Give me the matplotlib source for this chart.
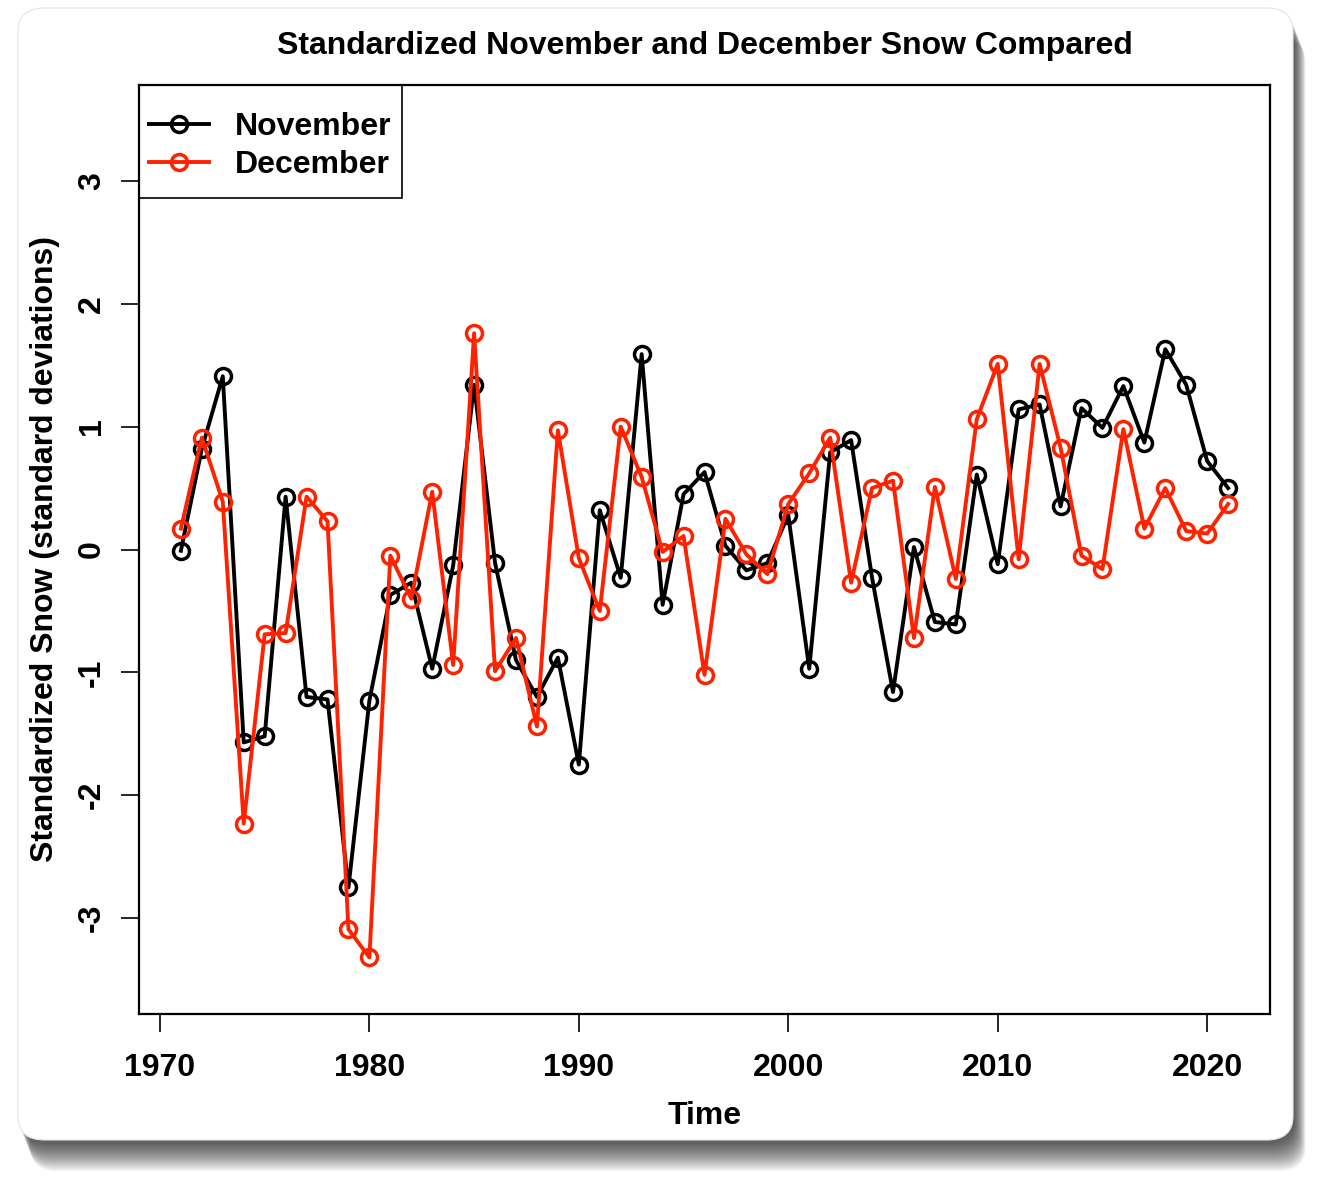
import numpy as np
import matplotlib
matplotlib.use('Agg')
import matplotlib.pyplot as plt
from matplotlib.patches import FancyBboxPatch, Rectangle

plt.rcParams['font.family'] = ['Liberation Sans', 'DejaVu Sans']
plt.rcParams['font.weight'] = 'bold'

# datos
anios = list(range(1971, 2022))
noviembre = [-0.01, 0.82, 1.41, -1.57, -1.52, 0.43, -1.20, -1.22, -2.75, -1.23,
             -0.37, -0.27, -0.97, -0.13, 1.34, -0.11, -0.90, -1.20, -0.88, -1.75,
             0.32, -0.23, 1.59, -0.45, 0.45, 0.63, 0.03, -0.17, -0.11, 0.28,
             -0.97, 0.79, 0.89, -0.23, -1.16, 0.02, -0.59, -0.61, 0.61, -0.12,
             1.14, 1.18, 0.35, 1.15, 0.99, 1.33, 0.87, 1.63, 1.34, 0.72,
             0.50]
diciembre = [0.17, 0.91, 0.39, -2.23, -0.69, -0.68, 0.43, 0.23, -3.09, -3.32,
             -0.05, -0.40, 0.47, -0.94, 1.76, -0.99, -0.72, -1.44, 0.97, -0.07,
             -0.50, 1.00, 0.59, -0.02, 0.11, -1.02, 0.25, -0.04, -0.20, 0.37,
             0.62, 0.91, -0.27, 0.50, 0.56, -0.72, 0.51, -0.24, 1.06, 1.51,
             -0.08, 1.51, 0.83, -0.05, -0.16, 0.98, 0.17, 0.50, 0.15, 0.13,
             0.37]
xticks = [1970, 1980, 1990, 2000, 2010, 2020]
yticks = [-3, -2, -1, 0, 1, 2, 3]

rojo = '#ff2200'

fig = plt.figure(figsize=(13.3, 11.88), dpi=100)
fig.patch.set_facecolor('white')

# tarjeta con sombra
x0, y0, w, h = 18/1330, 1 - 1140/1188, (1293-18)/1330, (1140-8)/1188
for i in range(16):
    d = i * 2.0
    sombra = FancyBboxPatch((x0 + (2 + d*0.35)/1330, y0 - (4 + d*0.9)/1188), w, h,
                            boxstyle='round,pad=0,rounding_size=0.02',
                            transform=fig.transFigure, facecolor='black',
                            edgecolor='none', alpha=0.055, zorder=0)
    fig.patches.append(sombra)
tarjeta = FancyBboxPatch((x0, y0), w, h, boxstyle='round,pad=0,rounding_size=0.02',
                         transform=fig.transFigure, facecolor='white',
                         edgecolor='#e4e4e4', linewidth=0.8, zorder=1)
fig.patches.append(tarjeta)

ax = fig.add_axes([139/1330, 1 - 1014/1188, (1270-139)/1330, (1014-85)/1188])
ax.set_zorder(2)
ax.patch.set_facecolor('white')

ax.plot(anios, noviembre, color='black', lw=2.8, marker='o', ms=11.5,
        mfc='none', mec='black', mew=2.5, label='November')
ax.plot(anios, diciembre, color=rojo, lw=2.8, marker='o', ms=11.5,
        mfc='none', mec=rojo, mew=2.5, label='December')

ax.set_xlim(1969, 2023)
ax.set_ylim(-3.78, 3.78)
ax.set_xticks(xticks)
ax.set_yticks(yticks)
ax.set_yticklabels([str(t) for t in yticks], rotation=90, va='center')
ax.tick_params(axis='both', direction='out', length=13, width=1.2,
               labelsize=23, pad=15)
ax.tick_params(axis='y', pad=10)
for s in ax.spines.values():
    s.set_linewidth(1.6)

ax.set_xlabel('Time', fontsize=23, fontweight='bold', labelpad=13)
ax.set_ylabel('Standardized Snow (standard deviations)', fontsize=23,
              fontweight='bold', labelpad=12)
ax.set_title('Standardized November and December Snow Compared',
             fontsize=23, fontweight='bold', pad=22)

# leyenda sin marco y marco aparte (como en R)
leg = ax.legend(loc='upper left', fontsize=23, frameon=False,
                bbox_to_anchor=(0.0, 0.981), borderaxespad=0,
                handlelength=1.9, borderpad=0.3,
                labelspacing=0.25, handletextpad=0.8)
marco = Rectangle((0, 1 - 113/929), 263/1131, 113/929, transform=ax.transAxes,
                  facecolor='none', edgecolor='black', lw=1.2, zorder=5)
ax.add_patch(marco)

fig.savefig('out.png', dpi=100)
